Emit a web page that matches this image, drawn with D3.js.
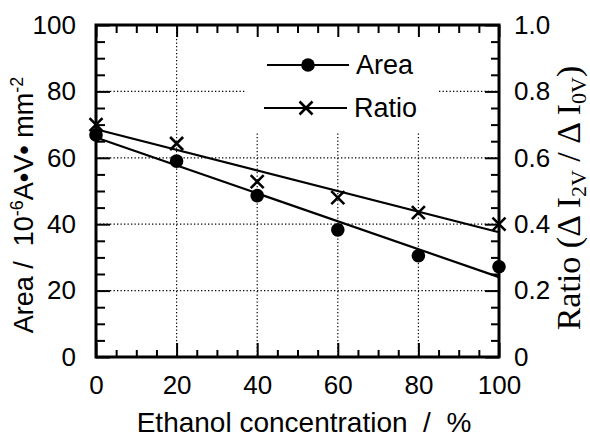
<!DOCTYPE html>
<html><head><meta charset="utf-8">
<script src="https://cdn.jsdelivr.net/npm/d3@7"></script>
<style>
html,body{margin:0;padding:0;background:#fff;}
svg{display:block;}
text{font-family:"Liberation Sans",Arial,Helvetica,sans-serif;fill:#000;}
text.serif, text.serif tspan{font-family:"Liberation Serif","Times New Roman",serif;}
</style></head>
<body>
<svg id="chart" width="590" height="438"></svg>
<script>
// ---- data ----
const concentrations = [0, 20, 40, 60, 80, 100];
const areaValues = [66.9, 59.0, 48.6, 38.3, 30.5, 27.2];
const ratioValues = [0.70, 0.643, 0.528, 0.48, 0.435, 0.40];
const xTicks = [0, 20, 40, 60, 80, 100];
const yLeftTicks = [0, 20, 40, 60, 80, 100];
const yRightTicks = [0, 0.2, 0.4, 0.6, 0.8, 1.0];
const seriesNames = ["Area", "Ratio"];

// ---- layout ----
const L = 96, R = 499, T = 25, B = 357;
const svg = d3.select("#chart");
const x = d3.scaleLinear().domain([0, 100]).range([L, R]);
const yL = d3.scaleLinear().domain([0, 100]).range([B, T]);
const yR = d3.scaleLinear().domain([0, 1]).range([B, T]);

// least-squares fit lines from data
function fit(xs, ys) {
  const n = xs.length, mx = d3.mean(xs), my = d3.mean(ys);
  let sxy = 0, sxx = 0;
  for (let i = 0; i < n; i++) { sxy += (xs[i]-mx)*(ys[i]-my); sxx += (xs[i]-mx)**2; }
  const b = sxy/sxx, a = my - b*mx;
  return v => a + b*v;
}
const areaFit = fit(concentrations, areaValues);
const ratioFit = fit(concentrations, ratioValues);

// ---- grid ----
const grid = svg.append("g").attr("stroke", "#000").attr("stroke-width", 1.2).attr("stroke-dasharray", "1.3,2.2");
grid.selectAll(".gh").data([20, 40, 60, 80]).join("line")
  .attr("x1", L).attr("x2", R).attr("y1", d => yL(d)).attr("y2", d => yL(d));
grid.selectAll(".gv").data([20, 40, 60, 80]).join("line")
  .attr("y1", T).attr("y2", B).attr("x1", d => x(d)).attr("x2", d => x(d));

// legend background hides grid
svg.append("rect").attr("x", 245).attr("y", T + 2).attr("width", 192).attr("height", 106).attr("fill", "#fff");

// ---- ticks via axes ----
const minorX = d3.range(0, 101, 5).filter(v => v % 20 !== 0);
const minorYL = d3.range(0, 101, 5).filter(v => v % 20 !== 0);
const minorYR = d3.range(0, 1.0001, 0.05).filter(v => Math.abs(v*5 - Math.round(v*5)) > 1e-6);

function styleAxis(g) {
  g.select(".domain").remove();
  g.selectAll(".tick line").attr("stroke", "#000").attr("stroke-width", 2);
  g.selectAll("text").attr("font-size", 26).attr("fill", "#000")
   .attr("font-family", "'Liberation Sans',Arial,Helvetica,sans-serif");
}
// bottom
svg.append("g").attr("transform", `translate(0,${B})`)
  .call(d3.axisBottom(x).tickValues(xTicks).tickSize(-14).tickPadding(19).tickFormat(d3.format("d"))).call(styleAxis);
svg.append("g").attr("transform", `translate(0,${B})`)
  .call(d3.axisBottom(x).tickValues(minorX).tickSize(-7).tickFormat("")).call(styleAxis);
// top
svg.append("g").attr("transform", `translate(0,${T})`)
  .call(d3.axisTop(x).tickValues(xTicks).tickSize(-12).tickFormat("")).call(styleAxis);
svg.append("g").attr("transform", `translate(0,${T})`)
  .call(d3.axisTop(x).tickValues(minorX).tickSize(-8).tickFormat("")).call(styleAxis);
// left
svg.append("g").attr("transform", `translate(${L},0)`)
  .call(d3.axisLeft(yL).tickValues(yLeftTicks).tickSize(-14).tickPadding(20).tickFormat(d3.format("d"))).call(styleAxis);
svg.append("g").attr("transform", `translate(${L},0)`)
  .call(d3.axisLeft(yL).tickValues(minorYL).tickSize(-9).tickFormat("")).call(styleAxis);
// right
svg.append("g").attr("transform", `translate(${R},0)`)
  .call(d3.axisRight(yR).tickValues(yRightTicks).tickSize(-14).tickPadding(15)
    .tickFormat(d => d === 0 ? "0" : d3.format(".1f")(d))).call(styleAxis);
svg.append("g").attr("transform", `translate(${R},0)`)
  .call(d3.axisRight(yR).tickValues(minorYR).tickSize(-8).tickFormat("")).call(styleAxis);

// frame
svg.append("rect").attr("x", L).attr("y", T).attr("width", R - L).attr("height", B - T)
  .attr("fill", "none").attr("stroke", "#000").attr("stroke-width", 3);

// ---- fit lines ----
const lineG = svg.append("g").attr("stroke", "#000").attr("stroke-width", 2.2);
lineG.append("line").attr("x1", x(0)).attr("x2", x(100)).attr("y1", yL(areaFit(0))).attr("y2", yL(areaFit(100)));
lineG.append("line").attr("x1", x(0)).attr("x2", x(100)).attr("y1", yR(ratioFit(0))).attr("y2", yR(ratioFit(100)));

// ---- markers ----
function cross(g, cx, cy, s) {
  g.append("path").attr("d", `M${cx-s},${cy-s}L${cx+s},${cy+s}M${cx-s},${cy+s}L${cx+s},${cy-s}`)
    .attr("stroke", "#000").attr("stroke-width", 2.6).attr("fill", "none");
}
svg.append("g").selectAll("circle").data(concentrations).join("circle")
  .attr("cx", d => x(d)).attr("cy", (d, i) => yL(areaValues[i])).attr("r", 6.8).attr("fill", "#000");
const crossG = svg.append("g");
concentrations.forEach((c, i) => cross(crossG, x(c), yR(ratioValues[i]), 6.5));

// ---- legend ----
const leg = svg.append("g");
leg.append("line").attr("x1", 267).attr("x2", 349).attr("y1", 65).attr("y2", 65).attr("stroke", "#000").attr("stroke-width", 2);
leg.append("circle").attr("cx", 308).attr("cy", 65).attr("r", 6.8).attr("fill", "#000");
leg.append("text").attr("x", 356).attr("y", 74).attr("font-size", 27).text(seriesNames[0]);
leg.append("line").attr("x1", 264).attr("x2", 347).attr("y1", 108).attr("y2", 108).attr("stroke", "#000").attr("stroke-width", 2);
cross(leg, 306, 108, 6.5);
leg.append("text").attr("x", 354).attr("y", 117).attr("font-size", 27).text(seriesNames[1]);

// ---- axis titles ----
svg.append("text").attr("x", 304).attr("y", 432).attr("text-anchor", "middle")
  .attr("font-size", 28).style("white-space", "pre").text("Ethanol concentration  /  %");

const yt = svg.append("text").attr("transform", "translate(33,205) rotate(-90)")
  .attr("text-anchor", "middle").attr("font-size", 27).style("white-space", "pre");
yt.append("tspan").text("Area /  10");
yt.append("tspan").attr("font-size", 18).attr("dy", -10).text("-6");
yt.append("tspan").attr("dy", 10).text("A•V• mm");
yt.append("tspan").attr("font-size", 18).attr("dy", -10).text("-2");

const rt = svg.append("text").attr("class", "serif").attr("transform", "translate(580,198) rotate(-90)")
  .attr("text-anchor", "middle").attr("font-size", 34).style("white-space", "pre");
rt.append("tspan").text("Ratio (Δ I");
rt.append("tspan").attr("font-size", 22).attr("dy", 6).text("2V");
rt.append("tspan").attr("dy", -6).text(" / Δ I");
rt.append("tspan").attr("font-size", 22).attr("dy", 6).text("0V");
rt.append("tspan").attr("dy", -6).text(")");
</script>
</body></html>
